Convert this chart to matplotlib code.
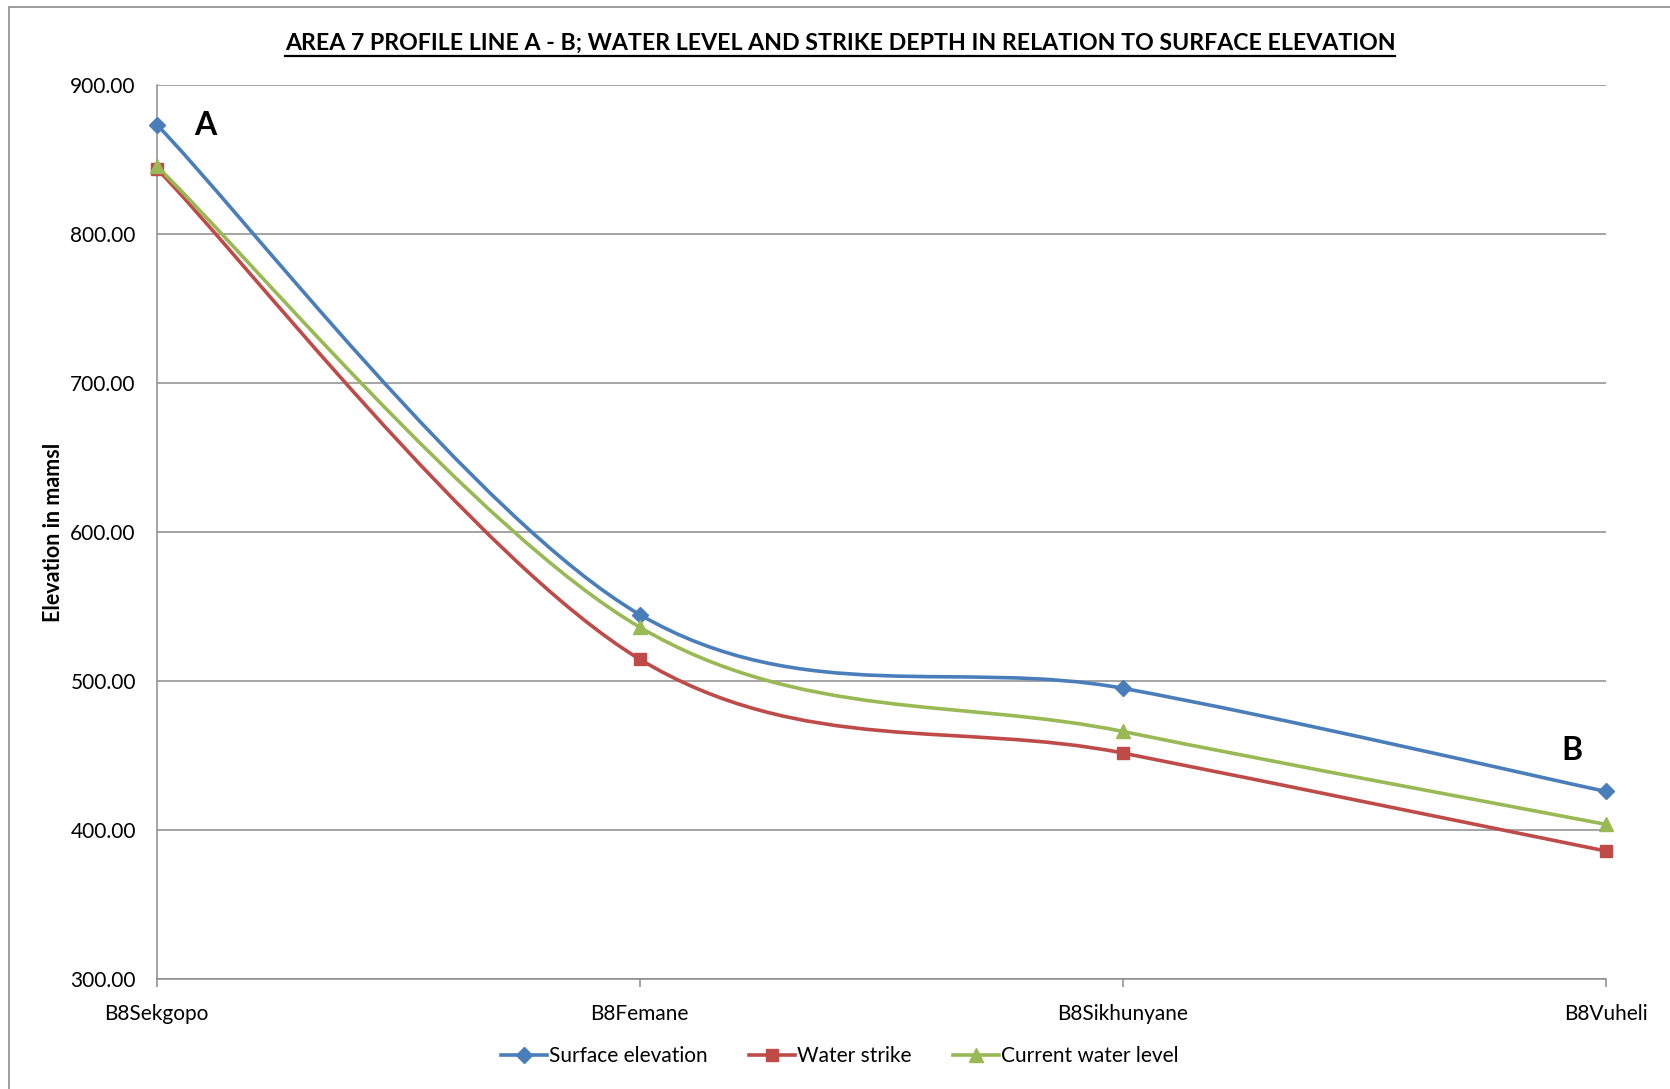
import matplotlib
matplotlib.use("Agg")
import matplotlib.pyplot as plt
from matplotlib.path import Path
from matplotlib.patches import PathPatch, Rectangle
from matplotlib.lines import Line2D

plt.rcParams['font.family'] = ['Lato', 'DejaVu Sans']

# Boreholes along the profile line
stations = ["B8Sekgopo", "B8Femane", "B8Sikhunyane", "B8Vuheli"]

# Elevations in metres above mean sea level
surface_elevation = [873.5, 544.5, 495.0, 425.7]
water_strike = [844.0, 514.5, 451.5, 385.7]
current_water_level = [845.6, 536.0, 466.0, 403.6]

y_ticks = [300, 400, 500, 600, 700, 800, 900]

series = [
    ("Surface elevation", surface_elevation, "#4A7EBB", "D", 8),
    ("Water strike", water_strike, "#BE4B48", "s", 8.5),
    ("Current water level", current_water_level, "#98B954", "^", 9.5),
]


def smooth_path(xs, ys, tension=6.0):
    """Cubic Bezier path through the points (spreadsheet-style smoothed line)."""
    n = len(xs)
    verts = [(xs[0], ys[0])]
    codes = [Path.MOVETO]
    for i in range(n - 1):
        x0, y0 = (xs[i - 1], ys[i - 1]) if i > 0 else (xs[i], ys[i])
        x1, y1 = xs[i], ys[i]
        x2, y2 = xs[i + 1], ys[i + 1]
        x3, y3 = (xs[i + 2], ys[i + 2]) if i + 2 < n else (xs[i + 1], ys[i + 1])
        c1 = (x1 + (x2 - x0) / tension, y1 + (y2 - y0) / tension)
        c2 = (x2 - (x3 - x1) / tension, y2 - (y3 - y1) / tension)
        verts += [c1, c2, (x2, y2)]
        codes += [Path.CURVE4] * 3
    return Path(verts, codes)


fig = plt.figure(figsize=(16.70, 10.89), dpi=100)

# Outer chart frame
fig.patches.append(Rectangle((9 / 1670, -0.01), 1.02, 1 - 7 / 1089 + 0.01,
                             transform=fig.transFigure, fill=False,
                             edgecolor="#8C8C8C", linewidth=1.2))

ax = fig.add_axes([0.0938, 0.1013, 0.9617 - 0.0938, 0.9218 - 0.1013])

x = list(range(len(stations)))
handles = []
for name, vals, color, marker, ms in series:
    ax.add_patch(PathPatch(smooth_path(x, vals), facecolor="none",
                           edgecolor=color, linewidth=2.6, zorder=3,
                           capstyle="round", joinstyle="round"))
    ax.plot(x, vals, linestyle="none", marker=marker, markersize=ms,
            color=color, markeredgecolor=color, zorder=4, clip_on=False)
    handles.append(Line2D([], [], color=color, linewidth=2.6, marker=marker,
                          markersize=ms, label=name))

ax.set_xlim(0, len(stations) - 1)
ax.set_ylim(300, 900)
ax.set_yticks(y_ticks)
ax.set_yticklabels([f"{v:.2f}" for v in y_ticks])
ax.set_xticks(x)
ax.set_xticklabels(stations)
ax.grid(axis="y", color="#8C8C8C", linewidth=1.1)
ax.set_axisbelow(True)
for s in ("top", "right"):
    ax.spines[s].set_visible(False)
for s in ("left", "bottom"):
    ax.spines[s].set_color("#8C8C8C")
    ax.spines[s].set_linewidth(1.1)
ax.tick_params(axis="y", length=0, pad=15, labelsize=15)
ax.tick_params(axis="x", length=6, width=1.1, color="#8C8C8C", pad=12,
               labelsize=15)

ax.set_ylabel("Elevation in mamsl", fontsize=15.5, fontweight="bold",
              labelpad=4.5)

# Profile end labels
ax.text(0.1, 873, "A", fontsize=23, fontweight="bold", ha="center",
        va="center")
ax.text(2.93, 453.5, "B", fontsize=23, fontweight="bold", ha="center",
        va="center")

# Title with underline
title = fig.text(840 / 1670, 1 - 43 / 1089,
                 "AREA 7 PROFILE LINE A - B; WATER LEVEL AND STRIKE DEPTH IN RELATION TO SURFACE ELEVATION",
                 fontsize=16.7, fontweight="bold", ha="center", va="center")
fig.canvas.draw()
bb = title.get_window_extent(renderer=fig.canvas.get_renderer())
uy = (bb.y0 - 2) / fig.bbox.height
fig.add_artist(Line2D([bb.x0 / fig.bbox.width, bb.x1 / fig.bbox.width],
                      [uy, uy], transform=fig.transFigure, color="black",
                      linewidth=1.6))

fig.legend(handles=handles, loc="center", bbox_to_anchor=(840 / 1670, 1 - 1056 / 1089),
           ncol=3, frameon=False, fontsize=15, handlelength=2.2,
           handletextpad=0.1, columnspacing=2.0)

fig.savefig("out.png", dpi=100, facecolor="white")
